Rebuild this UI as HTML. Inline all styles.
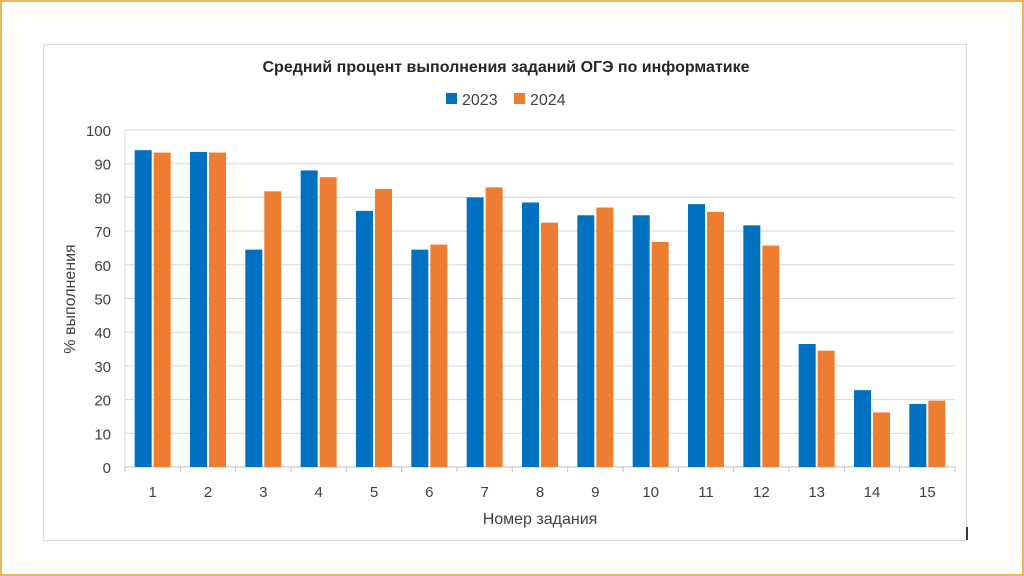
<!DOCTYPE html>
<html><head><meta charset="utf-8"><style>
body{margin:0;width:1024px;height:576px;background:#fff;overflow:hidden;font-family:"Liberation Sans","DejaVu Sans",sans-serif}
#frame{position:absolute;left:0;top:0;width:1020px;height:572px;border:2px solid #e9b85c}
#box{position:absolute;left:43px;top:44px;width:922px;height:495px;border:1px solid #d9d9d9}
svg{position:absolute;left:0;top:0}
</style></head><body>
<div id="frame"></div>
<div id="box"></div>
<svg id="c" width="1024" height="576"></svg>
<script>
const categories=["1","2","3","4","5","6","7","8","9","10","11","12","13","14","15"];
const series2023=[94,93.5,64.5,88,76,64.5,80,78.5,74.7,74.7,78,71.7,36.5,22.8,18.7];
const series2024=[93.3,93.3,81.8,86,82.5,66,83,72.5,77,66.8,75.7,65.7,34.5,16.2,19.7];
const yTicks=[0,10,20,30,40,50,60,70,80,90,100];
const NS="http://www.w3.org/2000/svg";
const svg=document.getElementById('c');
const X0=125,X1=955,Y0=467,Y1=130;
const band=(X1-X0)/categories.length;
const y=v=>Y0-(v/100)*(Y0-Y1);
const xc=i=>X0+band*(i+0.5);
function el(t,a,txt){const e=document.createElementNS(NS,t);for(const k in a)e.setAttribute(k,a[k]);if(txt!=null)e.textContent=txt;svg.appendChild(e);return e;}
yTicks.forEach(t=>{
 const g=el('line',{x1:X0,x2:X1,y1:y(t),y2:y(t),stroke:t===0?'#bfbfbf':'#d9d9d9','stroke-width':1});
 
 
 const l=el('text',{x:111,y:y(t)+6,'text-anchor':'end','font-size':15,fill:'#404040'},t);
 
 
});
const ax=el('line',{x1:X0,x2:X0,y1:Y1,y2:Y0,stroke:'#d9d9d9'});


for(let i=0;i<=categories.length;i++){
 const t=el('line',{x1:X0+band*i,x2:X0+band*i,y1:Y0,y2:Y0+5,stroke:'#bfbfbf'});
 
 
}
const bw=17;
categories.forEach((c,i)=>{
 const b1=el('rect',{x:xc(i)-bw-1,y:y(series2023[i]),width:bw,height:Y0-y(series2023[i]),fill:'#0070c0'});
 
 
 const b2=el('rect',{x:xc(i)+1,y:y(series2024[i]),width:bw,height:Y0-y(series2024[i]),fill:'#ed7d31'});
 
 
 const l=el('text',{x:xc(i),y:497,'text-anchor':'middle','font-size':15,fill:'#404040'},c);
 
 
});
const ti=el('text',{x:506,y:72,'text-anchor':'middle','font-size':16,'font-weight':'bold',fill:'#262626'},'Средний процент выполнения заданий ОГЭ по информатике');


const r1=el('rect',{x:446,y:93,width:11,height:11,fill:'#0070c0'});


const t1=el('text',{x:462,y:105,'font-size':16,fill:'#404040'},'2023');


const r2=el('rect',{x:514,y:93,width:11,height:11,fill:'#ed7d31'});


const t2=el('text',{x:530,y:105,'font-size':16,fill:'#404040'},'2024');


const xt=el('text',{x:540,y:524,'text-anchor':'middle','font-size':16,fill:'#404040'},'Номер задания');


const yt=el('text',{x:0,y:0,'text-anchor':'middle','font-size':16,fill:'#404040',transform:'translate(75,299) rotate(-90)'},'% выполнения');


const cur=el('line',{x1:967,x2:967,y1:527,y2:540,stroke:'#000','stroke-width':1.5});


</script>
</body></html>
